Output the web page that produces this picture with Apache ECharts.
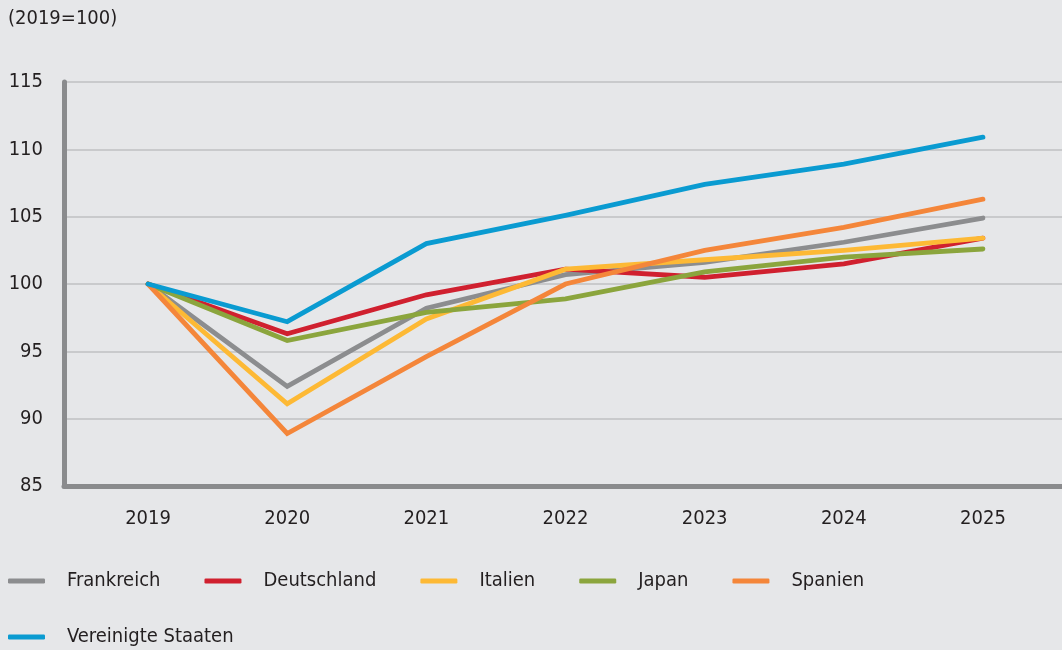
<!DOCTYPE html>
<html lang="de">
<head>
  <meta charset="UTF-8">
  <title>Index 2019=100</title>
  <script src="https://cdn.jsdelivr.net/npm/echarts@6/dist/echarts.min.js"></script>
  <style>
    html, body { margin: 0; padding: 0; background: #e6e7e9; }
  </style>
</head>
<body>
<div id="main" style="width: 1062px; height: 650px;"></div>
<script>
  var years = [2019, 2020, 2021, 2022, 2023, 2024, 2025]
  var yTicks = [85, 90, 95, 100, 105, 110, 115]

  // index values
  var frankreich = [100, 92.4, 98.2, 100.7, 101.6, 103.1, 104.9]
  var deutschland = [100, 96.3, 99.2, 101.1, 100.5, 101.5, 103.4]
  var italien = [100, 91.1, 97.4, 101.1, 101.8, 102.5, 103.4]
  var japan = [100, 95.8, 97.9, 98.9, 100.9, 102.0, 102.6]
  var spanien = [100, 88.9, 94.6, 100.0, 102.5, 104.2, 106.3]
  var usa = [100, 97.2, 103.0, 105.1, 107.4, 108.9, 110.9]

  var names = ['Frankreich', 'Deutschland', 'Italien', 'Japan', 'Spanien', 'Vereinigte Staaten']
  var values = [frankreich, deutschland, italien, japan, spanien, usa]
  var colors = ['#8c8d8f', '#d0202f', '#fdb935', '#8ba53d', '#f4863a', '#0a9bd1']

  var font = 'DejaVu Sans Condensed'
  var textColor = '#231f20'

  var series = names.map(function (name, i) {
    return {
      name: name,
      type: 'line',
      data: years.map(function (y, j) { return [y, values[i][j]] }),
      symbol: 'none',
      z: i === 5 ? 3 : 2,
      lineStyle: { width: 4.8, color: colors[i], cap: 'round', join: 'miter' },
      itemStyle: { color: colors[i] }
    }
  })

  var legendBase = {
    left: 8,
    padding: 0,
    icon: 'roundRect',
    itemWidth: 37,
    itemHeight: 5,
    itemGap: 44,
    textStyle: { fontFamily: font, fontSize: 20, color: textColor, padding: [0, 0, 0, 17] }
  }

  var chart = echarts.init(document.getElementById('main'))
  chart.setOption({
    backgroundColor: '#e6e7e9',
    animation: false,
    title: {
      text: '(2019=100)',
      left: 3,
      top: 4,
      textStyle: { fontFamily: font, fontSize: 20, fontWeight: 'normal', color: textColor }
    },
    legend: [
      Object.assign({}, legendBase, { top: 571, data: names.slice(0, 5) }),
      Object.assign({}, legendBase, { top: 627, data: names.slice(5) })
    ],
    grid: { left: 64, right: 0, top: 82, bottom: 164, containLabel: false },
    xAxis: {
      type: 'value',
      min: 2018.396,
      max: 2025.568,
      axisLine: { show: true, onZero: false, lineStyle: { color: '#8a8b8d', width: 5 } },
      axisTick: { show: false },
      splitLine: { show: false },
      axisLabel: {
        customValues: years,
        margin: 23,
        fontFamily: font,
        fontSize: 20,
        color: textColor,
        formatter: function (v) { return String(v) }
      }
    },
    yAxis: {
      type: 'value',
      min: yTicks[0],
      max: yTicks[yTicks.length - 1],
      interval: 5,
      axisLine: { show: true, lineStyle: { color: '#8a8b8d', width: 5 } },
      axisTick: { show: false },
      axisLabel: { margin: 21, fontFamily: font, fontSize: 20, color: textColor },
      splitLine: { show: true, lineStyle: { color: '#c9cacc', width: 2 } }
    },
    series: series
  })
</script>
</body>
</html>
